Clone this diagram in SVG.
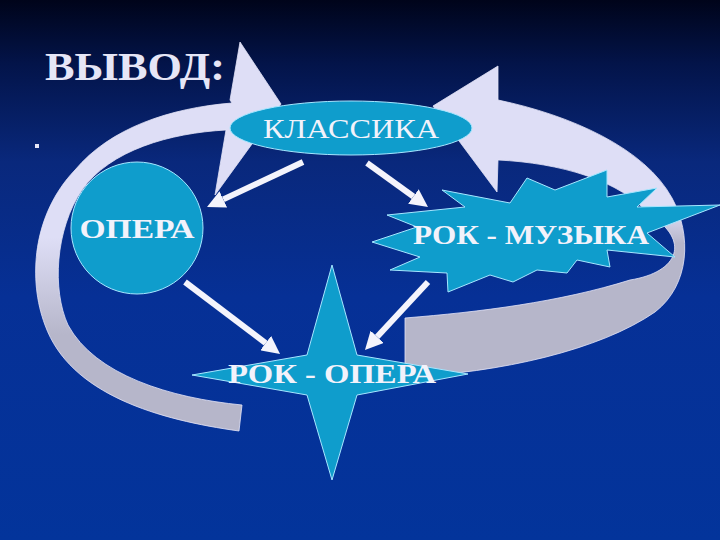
<svg xmlns="http://www.w3.org/2000/svg" width="720" height="540" viewBox="0 0 720 540">
<defs>
<linearGradient id="bg" x1="0" y1="0" x2="0" y2="540" gradientUnits="userSpaceOnUse">
<stop offset="0" stop-color="#00041a"/>
<stop offset="0.12" stop-color="#03144a"/>
<stop offset="0.3" stop-color="#09287c"/>
<stop offset="0.55" stop-color="#063096"/>
<stop offset="1" stop-color="#03349b"/>
</linearGradient>
<linearGradient id="gl" x1="0" y1="0" x2="0" y2="540" gradientUnits="userSpaceOnUse">
<stop offset="0.44" stop-color="#dedef6"/>
<stop offset="0.62" stop-color="#b6b6ca"/>
</linearGradient>
<linearGradient id="gr" x1="0" y1="0" x2="0" y2="540" gradientUnits="userSpaceOnUse">
<stop offset="0.39" stop-color="#dedef6"/>
<stop offset="0.45" stop-color="#b6b6ca"/>
</linearGradient>
<marker id="ah" viewBox="0 0 18 18" refX="0" refY="9" markerWidth="18" markerHeight="18" markerUnits="userSpaceOnUse" orient="auto">
<path d="M0,0 L18,9 L0,18 z" fill="#f4f4fc"/>
</marker>
<style>
.node{fill:#0f9dcc;stroke:#a6e6ff;stroke-width:1}
.lbl{font-family:"Liberation Serif","Times New Roman",serif;fill:#f2f2fb;text-anchor:middle}
.arr{stroke:#f4f4fc;stroke-width:6;fill:none;marker-end:url(#ah)}
.band{stroke:#e4e4f8;stroke-width:0.8}
</style>
</defs>
<rect x="0" y="0" width="720" height="540" fill="url(#bg)"/>

<g id="title">
<text x="45" y="80" font-family="'Liberation Serif','Times New Roman',serif" font-size="40" font-weight="bold" fill="#e6e6f6" textLength="180" lengthAdjust="spacingAndGlyphs">ВЫВОД:</text>
</g>
<g id="dot"><rect x="35" y="144" width="4" height="4" fill="#e6e6f6"/></g>

<g id="connectors">
<path id="cycle-left" class="band" fill="url(#gl)" d="M239,431 C160,420 70,395 45,325 C28,280 32,215 75,170 C110,128 170,108 232,103 L230,100 L240,42 L281,104 L215,195 L226,130 C170,133 110,150 82,190 C55,230 52,290 68,325 C95,375 170,398 242,405 Z"/>
<path id="cycle-right" class="band" fill="url(#gr)" d="M498,66 L433,106 L497,192 L498,160 C560,163 620,180 650,215 C690,240 680,272 630,280 C560,302 480,312 405,318 L405,377 C500,373 600,350 655,312 C690,285 692,235 672,198 C645,148 570,115 498,100 Z"/>
</g>

<g id="klassika">
<ellipse class="node" cx="351" cy="128" rx="121" ry="27"/>
<text class="lbl" x="351" y="138" font-size="27" textLength="176" lengthAdjust="spacingAndGlyphs">КЛАССИКА</text>
</g>

<g id="opera">
<circle class="node" cx="137" cy="228" r="66"/>
<text class="lbl" x="137" y="238" font-size="28" font-weight="bold" textLength="115" lengthAdjust="spacingAndGlyphs">ОПЕРА</text>
</g>

<g id="rok-muzyka">
<polygon class="node" points="442,190 465,207 387,215 417,227 372,242 420,257 390,270 447,273 448,292 490,275 513,282 537,270 567,273 577,260 610,267 607,250 675,257 647,233 720,205 637,207 657,188 607,197 607,170 555,190 527,178 510,203"/>
<text class="lbl" x="531" y="244" font-size="28" font-weight="bold" textLength="236" lengthAdjust="spacingAndGlyphs">РОК - МУЗЫКА</text>
</g>

<g id="rok-opera">
<polygon class="node" points="332,265 357,355 468,374 357,395 332,480 307,395 192,375 307,355"/>
<text class="lbl" x="332" y="383" font-size="27" font-weight="bold" textLength="208" lengthAdjust="spacingAndGlyphs">РОК - ОПЕРА</text>
</g>

<g id="arrows">
<line class="arr" x1="303" y1="162" x2="223.3" y2="199.4"/>
<line class="arr" x1="367" y1="163" x2="413.4" y2="196.5"/>
<line class="arr" x1="185" y1="282" x2="265.7" y2="343.1"/>
<line class="arr" x1="428" y1="282" x2="377.2" y2="336.8"/>
</g>
</svg>
